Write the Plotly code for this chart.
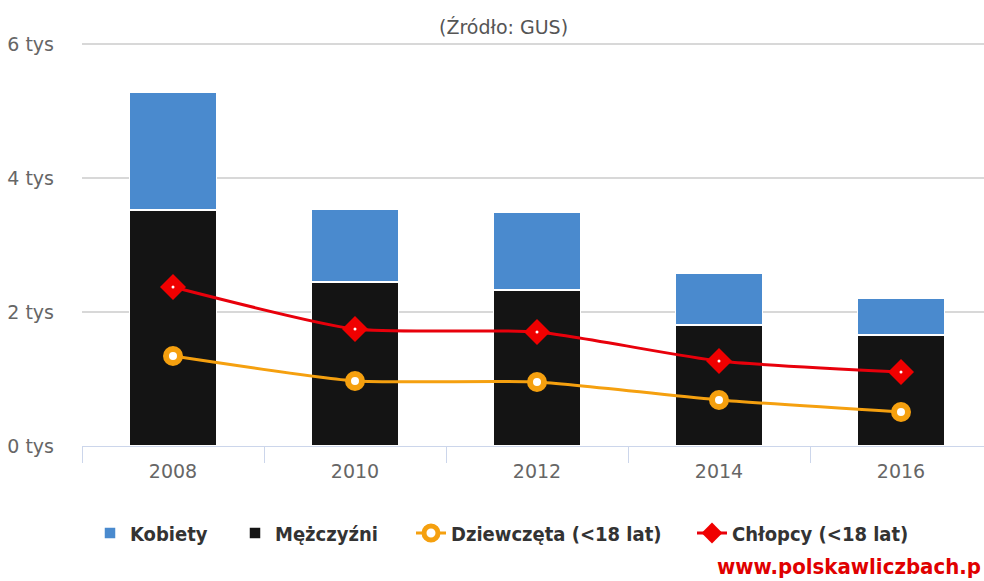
import plotly.graph_objects as go

years = ["2008", "2010", "2012", "2014", "2016"]
kobiety = [1762, 1089, 1165, 776, 552]
mezczyzni = [3522, 2448, 2328, 1806, 1657]
dziewczeta = [1343, 970, 955, 687, 507]
chlopcy = [2373, 1746, 1701, 1269, 1104]

ytick_vals = [0, 2000, 4000, 6000]
ytick_text = ["0 tys", "2 tys", "4 tys", "6 tys"]

W, H = 984, 581
L, R, T, B = 82, 0, 42, 135
PW, PH = W - L - R, H - T - B

LEG_Y = 1 - 533 / H
LEG_FONT = dict(family="DejaVu Sans Condensed", size=20, color="#333333", weight="bold")


def leg(x_px):
    return dict(orientation="h", xref="container", yref="container",
                x=x_px / W, xanchor="left", y=LEG_Y, yanchor="middle",
                font=LEG_FONT, itemwidth=30, bgcolor="rgba(0,0,0,0)")


fig = go.Figure()
fig.add_trace(go.Bar(
    x=years, y=mezczyzni, name="Mężczyźni",
    marker=dict(color="#141414", line=dict(color="#ffffff", width=1.5)),
    width=0.48, legend="legend2",
))
fig.add_trace(go.Bar(
    x=years, y=kobiety, name="Kobiety",
    marker=dict(color="#4a8ace", line=dict(color="#ffffff", width=1.5)),
    width=0.48, legend="legend",
))
fig.add_trace(go.Scatter(
    x=years, y=dziewczeta, name="Dziewczęta (<18 lat)", mode="lines+markers",
    line=dict(color="#f5a00f", width=3, shape="spline", smoothing=0.5),
    marker=dict(symbol="circle", size=14, color="#ffffff",
                line=dict(color="#f5a00f", width=6)),
    legend="legend3",
))
fig.add_trace(go.Scatter(
    x=years, y=chlopcy, name="Chłopcy (<18 lat)", mode="lines+markers",
    line=dict(color="#e8000b", width=3, shape="spline", smoothing=0.6),
    marker=dict(symbol="diamond", size=20, color="#f00000",
                line=dict(color="#f00000", width=0)),
    legend="legend4",
))
fig.add_trace(go.Scatter(
    x=years, y=chlopcy, mode="markers", showlegend=False, hoverinfo="skip",
    marker=dict(symbol="circle", size=3, color="#ffffff"),
))

fig.update_layout(
    width=W, height=H,
    margin=dict(l=L, r=R, t=T, b=B, autoexpand=False),
    barmode="stack",
    plot_bgcolor="#ffffff", paper_bgcolor="#ffffff",
    font=dict(family="DejaVu Sans", color="#666666", size=15),
    showlegend=True,
    legend=leg(90),
    legend2=leg(235),
    legend3=leg(411),
    legend4=leg(692),
    xaxis=dict(
        type="category", range=[-0.5, -0.5 + PW / 182],
        showgrid=False, showline=True, linecolor="#ccd6eb", linewidth=1,
        ticks="outside", tickson="boundaries", ticklen=16, tickcolor="#ccd6eb",
        tickfont=dict(size=19, color="#666666"), ticklabelstandoff=8,
        fixedrange=True,
    ),
    yaxis=dict(
        range=[0, 6030], tickvals=ytick_vals, ticktext=ytick_text,
        showgrid=True, gridcolor="#d8d8d8", gridwidth=1.5,
        zeroline=False, showline=False, ticks="",
        tickfont=dict(size=19, color="#666666"), ticklabelstandoff=27,
        fixedrange=True,
    ),
    annotations=[
        dict(text="(Źródło: GUS)", xref="paper", yref="paper",
             x=(503 - L) / PW, y=1 + (T - 27) / PH,
             xanchor="center", yanchor="middle", showarrow=False,
             font=dict(size=19, color="#555555")),
        dict(text="www.polskawliczbach.p", xref="paper", yref="paper",
             x=1.0, xshift=-1, y=-(566 - (T + PH)) / PH,
             xanchor="right", yanchor="middle", showarrow=False,
             font=dict(family="DejaVu Sans Condensed", size=22,
                       color="#e00000", weight="bold")),
    ],
)

fig.write_html("out.html",
               config={"displayModeBar": False},
               post_script="document.body.style.margin='0px';"
                           "document.documentElement.style.overflow='hidden';")
